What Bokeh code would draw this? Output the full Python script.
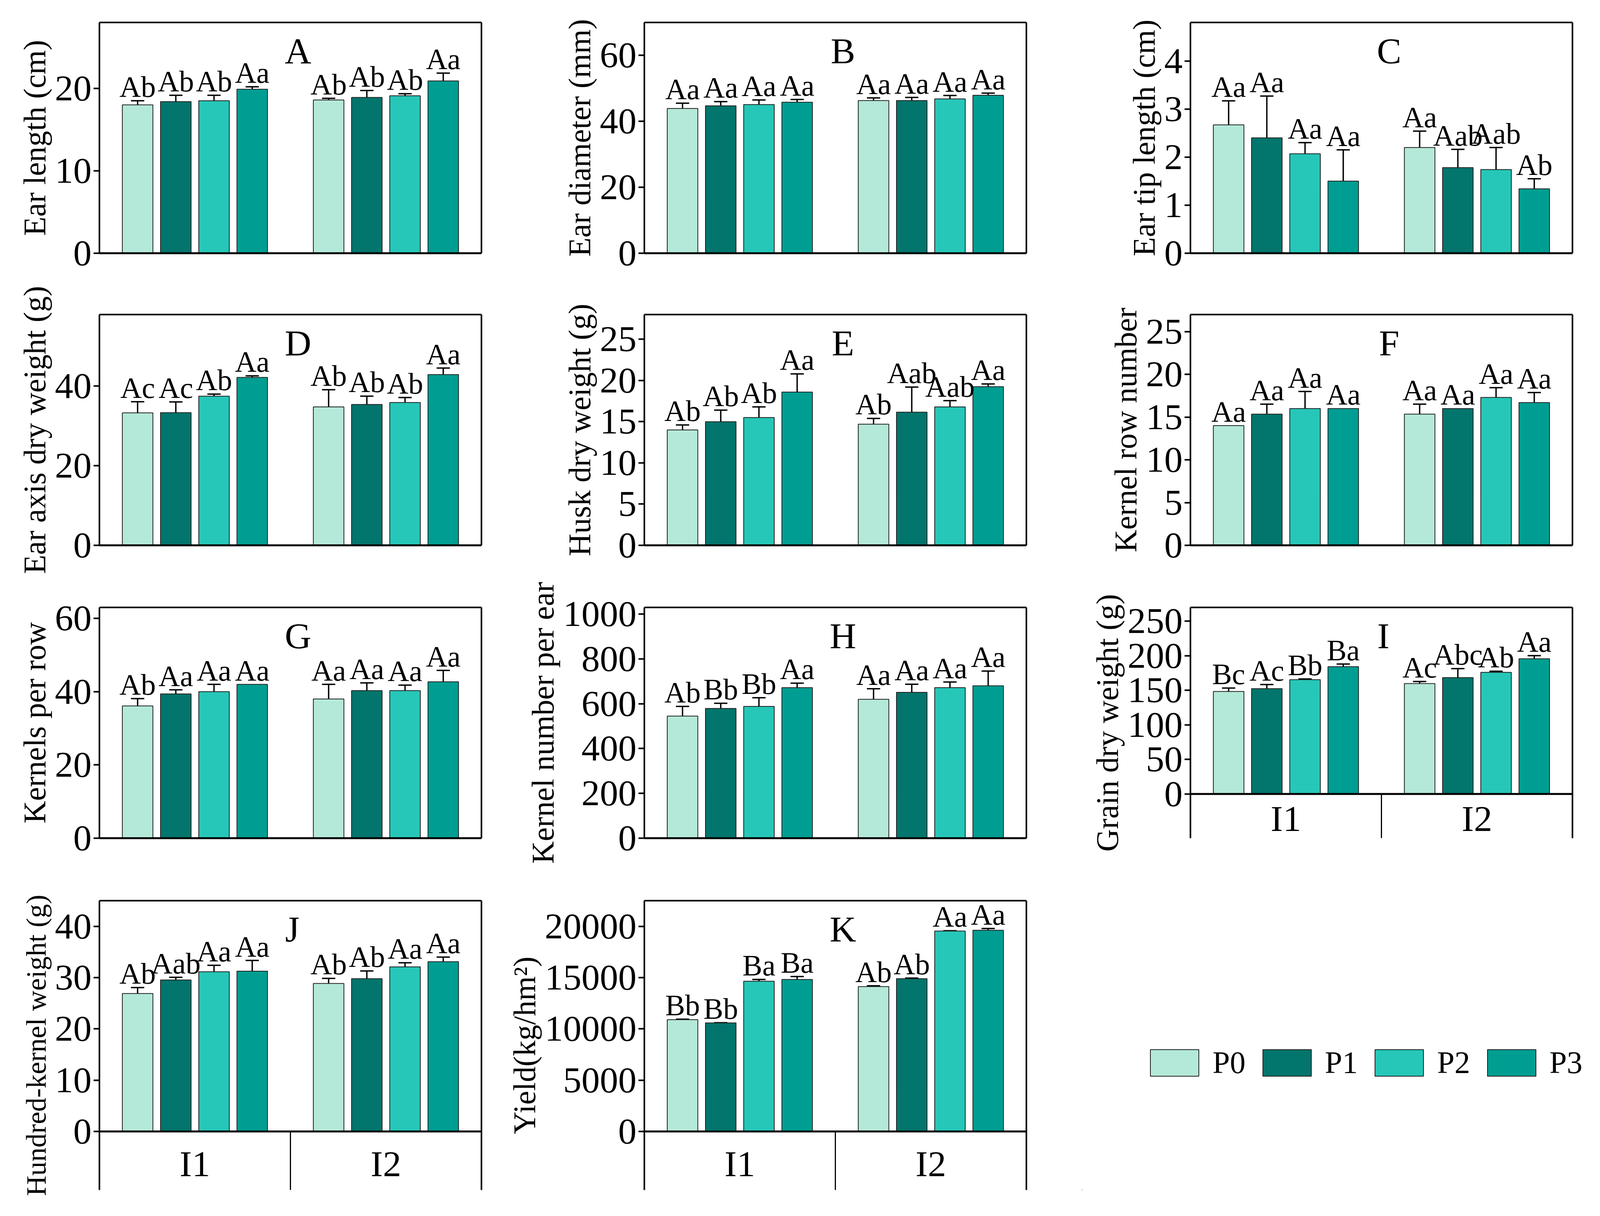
from bokeh.plotting import figure
from bokeh.models import (Range1d, FixedTicker, LinearAxis, Whisker, TeeHead,
                          ColumnDataSource, Span, Legend, LegendItem)
from bokeh.layouts import row, column
from bokeh.embed import file_html
from bokeh.resources import INLINE
from bokeh.core.properties import value

# ---------------- data ----------------
treatments = ["P0", "P1", "P2", "P3"]
groups = ["I1", "I2"]
colors = ["#b4e9da", "#02756c", "#26c7b8", "#009e92"]

ear_length = [18.0, 18.4, 18.5, 19.9, 18.6, 18.9, 19.1, 20.9]
ear_length_err = [0.5, 0.77, 0.67, 0.3, 0.2, 0.85, 0.25, 0.95]
ear_length_sig = ["Ab", "Ab", "Ab", "Aa", "Ab", "Ab", "Ab", "Aa"]

ear_diameter = [43.9, 44.7, 45.1, 45.8, 46.3, 46.3, 46.8, 47.9]
ear_diameter_err = [1.6, 1.3, 1.4, 0.85, 0.8, 0.95, 1.05, 0.65]
ear_diameter_sig = ["Aa"] * 8

ear_tip = [2.67, 2.40, 2.07, 1.50, 2.20, 1.78, 1.74, 1.34]
ear_tip_err = [0.5, 0.87, 0.23, 0.65, 0.34, 0.38, 0.46, 0.21]
ear_tip_sig = ["Aa", "Aa", "Aa", "Aa", "Aa", "Aab", "Aab", "Ab"]

ear_axis = [33.3, 33.35, 37.5, 42.2, 34.8, 35.4, 35.9, 42.9]
ear_axis_err = [2.8, 2.7, 0.5, 0.4, 4.3, 2.1, 1.25, 1.65]
ear_axis_sig = ["Ac", "Ac", "Ab", "Aa", "Ab", "Ab", "Ab", "Aa"]

husk = [14.0, 15.0, 15.5, 18.6, 14.7, 16.15, 16.8, 19.25]
husk_err = [0.6, 1.4, 1.3, 2.2, 0.7, 3.05, 0.75, 0.33]
husk_sig = ["Ab", "Ab", "Ab", "Aa", "Ab", "Aab", "Aab", "Aa"]

row_number = [14.0, 15.35, 16.0, 16.0, 15.35, 16.0, 17.3, 16.7]
row_number_err = [0, 1.17, 2.0, 0, 1.17, 0, 1.15, 1.17]
row_number_sig = ["Aa"] * 8

kernels_row = [36.1, 39.4, 40.0, 42.0, 38.0, 40.3, 40.3, 42.7]
kernels_row_err = [2.0, 1.1, 2.0, 0, 4.0, 2.1, 1.5, 3.1]
kernels_row_sig = ["Ab", "Aa", "Aa", "Aa", "Aa", "Aa", "Aa", "Aa"]

kernel_number = [545, 579, 588, 672, 620, 651, 672, 680]
kernel_number_err = [43, 23, 39, 20, 47, 36, 25, 66]
kernel_number_sig = ["Ab", "Bb", "Bb", "Aa", "Aa", "Aa", "Aa", "Aa"]

grain_weight = [148.3, 152.4, 165.5, 184.3, 159.8, 168.4, 176.1, 195.7]
grain_weight_err = [5, 6, 1, 3.7, 3, 13, 1.5, 4.5]
grain_weight_sig = ["Bc", "Ac", "Bb", "Ba", "Ac", "Abc", "Ab", "Aa"]

hundred_kernel = [26.9, 29.55, 31.15, 31.25, 28.85, 29.8, 32.1, 33.1]
hundred_kernel_err = [1.15, 0.5, 1.25, 2.1, 1.0, 1.5, 0.8, 0.9]
hundred_kernel_sig = ["Ab", "Aab", "Aa", "Aa", "Ab", "Ab", "Aa", "Aa"]

yield_ = [10900, 10580, 14650, 14815, 14120, 14900, 19540, 19620]
yield_err = [50, 20, 170, 290, 80, 50, 30, 170]
yield_sig = ["Bb", "Bb", "Ba", "Ba", "Ab", "Ab", "Aa", "Aa"]

# ---------------- style / layout ----------------
FONT = "Liberation Serif"
FRAME_H = 591
COL_W = [1289, 1480, 1311]
COL_BL = [254, 360, 278]
COL_BR = [57, 142, 55]


def blank_axis(width):
    return LinearAxis(ticker=FixedTicker(ticks=[]), axis_line_width=width,
                      axis_line_color="black",
                      major_tick_line_color=None, minor_tick_line_color=None,
                      major_label_text_font_size="1px")


def make_panel(letter, ylabel, vals, errs, sigs, ymax, ticks, col,
               height, bt, bb, ext_px=0, letter_x=5.2, label_size="80px"):
    ppu = FRAME_H / ymax
    ystart = -ext_px / ppu if ext_px else 0
    p = figure(width=COL_W[col], height=height,
               x_range=Range1d(0, 10), y_range=Range1d(ystart, ymax),
               output_backend="svg", toolbar_location=None, tools="",
               x_axis_location=None,
               min_border_left=COL_BL[col], min_border_right=COL_BR[col],
               min_border_top=bt, min_border_bottom=bb)
    p.outline_line_color = None
    p.xgrid.visible = False
    p.ygrid.visible = False

    ax = p.yaxis[0]
    ax.ticker = FixedTicker(ticks=ticks)
    ax.axis_label = ylabel
    ax.axis_label_text_font = FONT
    ax.axis_label_text_font_size = label_size
    ax.axis_label_text_font_style = "normal"
    ax.axis_label_text_color = "black"
    ax.axis_label_standoff = 5
    ax.major_label_text_font = FONT
    ax.major_label_text_font_size = "94px"
    ax.major_label_text_color = "black"
    ax.major_label_standoff = 5
    ax.major_tick_out = 15
    ax.major_tick_in = 0
    ax.major_tick_line_width = 4
    ax.minor_tick_line_color = None
    ax.axis_line_width = 4

    p.add_layout(blank_axis(4), "right")
    p.add_layout(blank_axis(4), "above")

    if ext_px:
        p.add_layout(Span(location=0, dimension="width", line_width=5,
                          line_color="black"))
        p.segment(x0=[5], y0=[ystart], x1=[5], y1=[0], line_color="black",
                  line_width=3)
        p.text(x=[2.5, 7.5], y=[-(ext_px * 0.55) / ppu] * 2, text=groups,
               text_align="center", text_baseline="alphabetic",
               text_font=value(FONT), text_font_size="94px", text_color="black")
    else:
        p.add_layout(blank_axis(5), "below")

    xs = [g * 5 + t + 1 for g in range(len(groups)) for t in range(len(treatments))]
    src = ColumnDataSource(dict(x=xs, top=vals, color=colors * len(groups),
                                hi=[v + e for v, e in zip(vals, errs)], sig=sigs))
    p.vbar(x="x", top="top", width=0.8, fill_color="color", line_color="#1f1f1f",
           line_width=2, source=src)

    wsrc = ColumnDataSource(dict(
        x=[x for x, e in zip(xs, errs) if e > 0],
        lo=[v - e for v, e in zip(vals, errs) if e > 0],
        hi=[v + e for v, e in zip(vals, errs) if e > 0]))
    p.add_layout(Whisker(base="x", lower="lo", upper="hi", source=wsrc,
                         line_width=3.5, line_color="black",
                         upper_head=TeeHead(size=34, line_width=3.5, line_color="black"),
                         lower_head=TeeHead(size=34, line_width=3.5, line_color="black")))

    p.text(x="x", y="hi", text="sig", source=src, text_align="center",
           text_baseline="alphabetic", y_offset=-36,
           text_font=value(FONT), text_font_size="76px", text_color="black")

    p.text(x=[letter_x], y=[ymax], text=[letter], y_offset=72,
           text_align="center", text_baseline="alphabetic",
           text_font=value(FONT), text_font_size="94px", text_color="black")
    return p


# row 1
pA = make_panel("A", "Ear length (cm)", ear_length, ear_length_err, ear_length_sig,
                28, [0, 10, 20], 0, 708, 57, 60)
pB = make_panel("B", "Ear diameter (mm)", ear_diameter, ear_diameter_err, ear_diameter_sig,
                70, [0, 20, 40, 60], 1, 708, 57, 60)
pC = make_panel("C", "Ear tip length (cm)", ear_tip, ear_tip_err, ear_tip_sig,
                4.8, [0, 1, 2, 3, 4], 2, 708, 57, 60)
# row 2
pD = make_panel("D", "Ear axis dry weight (g)", ear_axis, ear_axis_err, ear_axis_sig,
                58, [0, 20, 40], 0, 772, 97, 84)
pE = make_panel("E", "Husk dry weight (g)", husk, husk_err, husk_sig,
                28, [0, 5, 10, 15, 20, 25], 1, 772, 97, 84)
pF = make_panel("F", "Kernel row number", row_number, row_number_err, row_number_sig,
                27, [0, 5, 10, 15, 20, 25], 2, 772, 97, 84)
# row 3
pG = make_panel("G", "Kernels per row", kernels_row, kernels_row_err, kernels_row_sig,
                63, [0, 20, 40, 60], 0, 808, 75, 142)
pH = make_panel("H", "Kernel number per ear", kernel_number, kernel_number_err,
                kernel_number_sig, 1030, [0, 200, 400, 600, 800, 1000], 1, 808, 75, 142)
pI = make_panel("I", "Grain dry weight (g)", grain_weight, grain_weight_err, grain_weight_sig,
                270, [0, 50, 100, 150, 200, 250], 2, 808, 75, 2, ext_px=140, letter_x=5.05)
# row 4
pJ = make_panel("J", "Hundred-kernel weight (g)", hundred_kernel, hundred_kernel_err,
                hundred_kernel_sig, 45, [0, 10, 20, 30, 40], 0, 810, 18, 51,
                ext_px=150, letter_x=5.05, label_size="72px")
pK = make_panel("K", "Yield(kg/hm²)", yield_, yield_err, yield_sig,
                22500, [0, 5000, 10000, 15000, 20000], 1, 810, 18, 51, ext_px=150)

# legend cell (proxy bars lie outside the visible range; only the legend shows)
pL = figure(width=COL_W[2], height=810, x_range=Range1d(0, 1), y_range=Range1d(0, 1),
            output_backend="svg", toolbar_location=None, tools="",
            x_axis_location=None, y_axis_location=None,
            min_border_left=0, min_border_right=0, min_border_top=0, min_border_bottom=0)
pL.outline_line_color = None
pL.xgrid.visible = False
pL.ygrid.visible = False
items = []
for name, c in zip(treatments, colors):
    r = pL.vbar(x=[-5], top=[-5], bottom=[-6], width=0.5, fill_color=c,
                line_color="#1f1f1f", line_width=2)
    items.append(LegendItem(label=name, renderers=[r]))
leg = Legend(items=items, orientation="horizontal", location=(160, 280),
             glyph_width=155, glyph_height=85, label_standoff=20, spacing=28,
             padding=0, margin=0, border_line_color=None, background_fill_alpha=0,
             label_text_font=FONT, label_text_font_size="80px", label_height=85,
             label_text_color="black")
pL.add_layout(leg, "center")

layout = column(row(pA, pB, pC), row(pD, pE, pF), row(pG, pH, pI), row(pJ, pK, pL))

open("out.html", "w").write(file_html(layout, INLINE))
